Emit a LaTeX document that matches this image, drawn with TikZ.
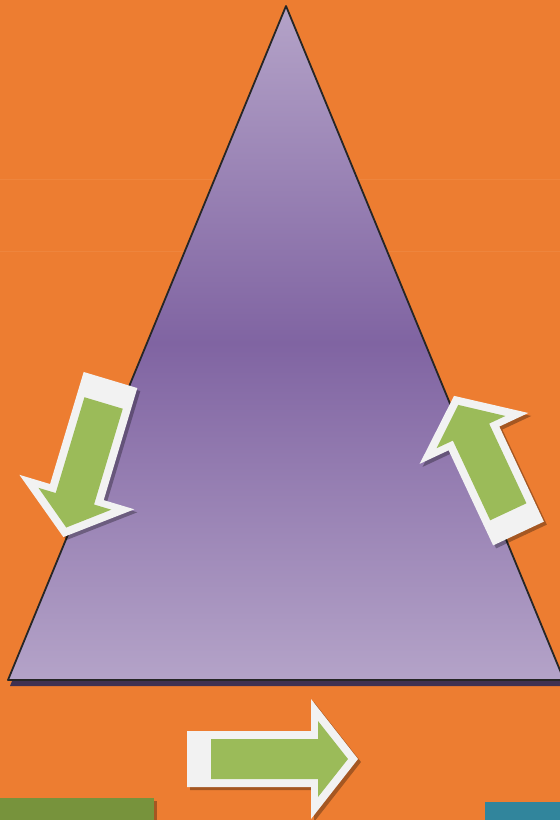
\documentclass[tikz,border=0pt]{standalone}
\usetikzlibrary{calc}
\definecolor{bgorange}{RGB}{237,125,49}
\definecolor{trilight}{RGB}{180,163,200}
\definecolor{tridark}{RGB}{128,100,162}
\definecolor{trishadow}{RGB}{63,49,81}
\definecolor{arrowwhite}{RGB}{242,242,242}
\definecolor{arrowgreen}{RGB}{155,187,89}
\definecolor{boxgreen}{RGB}{119,147,60}
\definecolor{boxteal}{RGB}{49,133,156}
\tikzset{
  triface/.style={
    top color=trilight, bottom color=trilight, middle color=tridark,
    draw=black!85, line width=1.8pt, line join=round
  },
  trishade/.style={fill=trishadow},
  arrowrim/.style={fill=arrowwhite},
  arrowcore/.style={fill=arrowgreen},
  arrowshade/.style={fill=black, opacity=0.3},
  seamline/.style={draw=bgorange!94!white, line width=0.5pt},
  edgeshade/.style={fill=black, opacity=0.3},
}
% block arrow: tail at origin, tip at (#3,0), turned by #2 degrees
\newcommand{\greenarrow}[3]{%
  \begin{scope}[shift={(#1)}, shift={(3,3)}, rotate=#2]
    \fill[arrowshade] (0,-28) -- ({#3-47},-28) -- ({#3-47},-60) -- (#3,0)
      -- ({#3-47},60) -- ({#3-47},28) -- (0,28) -- cycle;
  \end{scope}
  \begin{scope}[shift={(#1)}, rotate=#2]
    \fill[arrowrim] (0,-28) -- ({#3-47},-28) -- ({#3-47},-60) -- (#3,0)
      -- ({#3-47},60) -- ({#3-47},28) -- (0,28) -- cycle;
    \fill[arrowcore] (24,-20) -- ({#3-40},-20) -- ({#3-40},-38) -- ({#3-10},0)
      -- ({#3-40},38) -- ({#3-40},20) -- (24,20) -- cycle;
  \end{scope}}

\begin{document}
\begin{tikzpicture}[x=1pt, y=-1pt]

  % ── Canvas ──
  \useasboundingbox (0,0) rectangle (560,820);
  \clip (0,0) rectangle (560,820);
  \fill[bgorange] (0,0) rectangle (560,820);
  \draw[seamline] (0,179) -- (560,179);
  \draw[seamline] (0,251) -- (560,251);

  % ── Triangle corners ──
  \coordinate (apex)  at (286,6);
  \coordinate (baseL) at (8,680);
  \coordinate (baseR) at (564,680);

  % ── Triangle ──
  \fill[trishade] ($(apex)+(2,6)$) -- ($(baseL)+(2,6)$) -- ($(baseR)+(2,6)$) -- cycle;
  \path[triface] (apex) -- (baseL) -- (baseR) -- cycle;

  % ── Cycle arrows ──
  \greenarrow{110.5,380}{-106.7}{164}
  \greenarrow{518.5,533.5}{115.1}{152}
  \greenarrow{187,759}{0}{171}

  % ── Boxes cut by the lower edge ──
  \fill[edgeshade] (154,801) rectangle (157,820);
  \fill[boxgreen] (0,798) rectangle (154,820);
  \fill[boxteal] (485,802) rectangle (560,820);

\end{tikzpicture}
\end{document}
